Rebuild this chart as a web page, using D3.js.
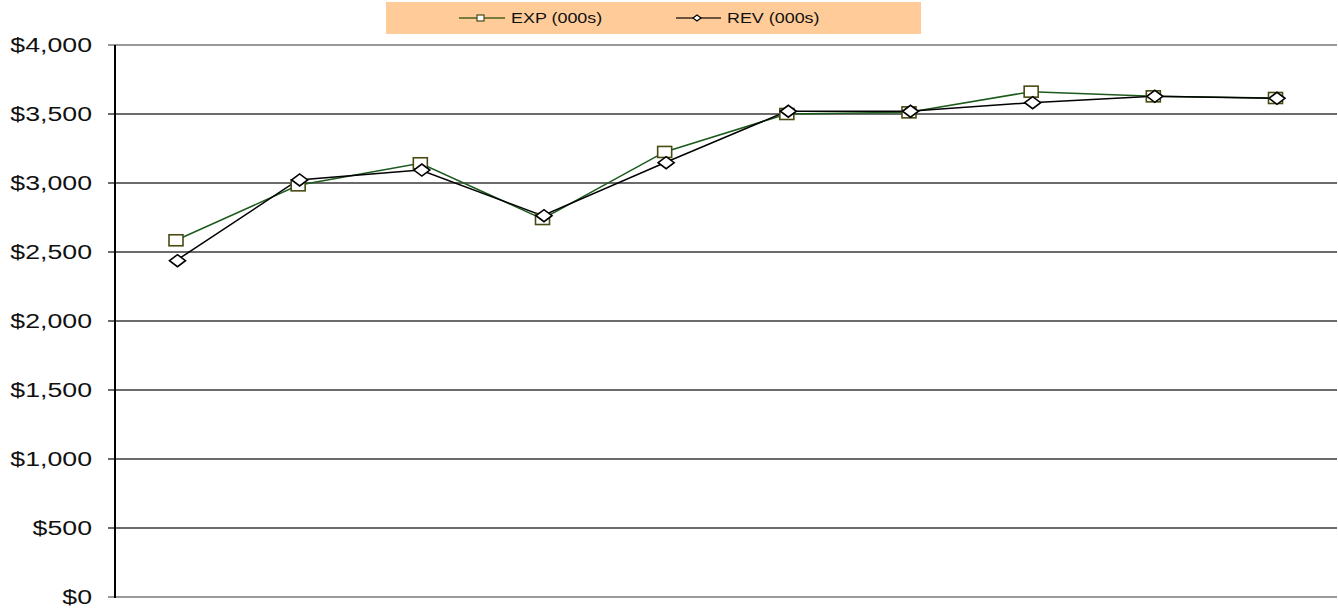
<!DOCTYPE html>
<html>
<head>
<meta charset="utf-8">
<script src="https://cdn.jsdelivr.net/npm/d3@7"></script>
<style>
  html, body { margin: 0; padding: 0; background: #fff; }
  svg { display: block; }
  text { font-family: "Liberation Sans", Arial, sans-serif; fill: #111; }
</style>
</head>
<body>
<svg id="chart" width="1338" height="613"></svg>
<script>
// Periods along the x axis (not labelled on the chart)
const categories = ["P1", "P2", "P3", "P4", "P5", "P6", "P7", "P8", "P9", "P10"];
// Expenses and revenue, in thousands of dollars
const expValues = [2585, 2983, 3143, 2739, 3225, 3500, 3512, 3662, 3628, 3616];
const revValues = [2437, 3022, 3094, 2763, 3147, 3520, 3520, 3582, 3628, 3614];
// Value axis ticks
const yTicks = [0, 500, 1000, 1500, 2000, 2500, 3000, 3500, 4000];
const seriesNames = ["EXP (000s)", "REV (000s)"];

const svg = d3.select("#chart");

const plot = { left: 115, right: 1337, top: 45, bottom: 597 };

const x = d3.scalePoint().domain(categories).range([176, 1275.5]);
const y = d3.scaleLinear().domain([0, 4000]).range([plot.bottom, plot.top]);

const fmt = v => "$" + d3.format(",")(v);

// Horizontal gridlines
svg.append("g")
  .selectAll("line")
  .data(yTicks)
  .join("line")
  .attr("x1", 108)
  .attr("x2", plot.right)
  .attr("y1", d => y(d))
  .attr("y2", d => y(d))
  .attr("stroke", d => d === 0 ? "#9a9a9a" : (d === 4000 ? "#777" : "#3a3a3a"))
  .attr("stroke-width", d => d === 0 ? 2 : 1.4);

// Value axis line
svg.append("line")
  .attr("x1", plot.left).attr("x2", plot.left)
  .attr("y1", plot.top).attr("y2", plot.bottom + 1)
  .attr("stroke", "#000").attr("stroke-width", 2);

// Tick labels (wide face)
svg.append("g")
  .selectAll("text")
  .data(yTicks)
  .join("text")
  .attr("transform", d => `translate(92,${y(d) + 7}) scale(1.37,1)`)
  .attr("text-anchor", "end")
  .attr("font-size", 19.5)
  .text(fmt);

// Series lines
const line = d3.line().x((d, i) => x(categories[i])).y(d => y(d));

svg.append("path")
  .datum(expValues)
  .attr("d", line)
  .attr("fill", "none")
  .attr("stroke", "#1d5a1d")
  .attr("stroke-width", 1.5);

svg.append("path")
  .datum(revValues)
  .attr("d", line)
  .attr("fill", "none")
  .attr("stroke", "#000")
  .attr("stroke-width", 1.5);

// Markers: squares for expenses, diamonds for revenue
const sqW = 14, sqH = 11;
svg.append("g")
  .selectAll("rect")
  .data(expValues)
  .join("rect")
  .attr("x", (d, i) => x(categories[i]) - sqW / 2)
  .attr("y", d => y(d) - sqH / 2)
  .attr("width", sqW)
  .attr("height", sqH)
  .attr("fill", "#fff")
  .attr("stroke", "#4a4a12")
  .attr("stroke-width", 1.6);

const dmW = 8, dmH = 6;
svg.append("g")
  .selectAll("path")
  .data(revValues)
  .join("path")
  .attr("transform", (d, i) => `translate(${x(categories[i]) + 1.5},${y(d)})`)
  .attr("d", `M${-dmW},0L0,${-dmH}L${dmW},0L0,${dmH}Z`)
  .attr("fill", "#fff")
  .attr("stroke", "#000")
  .attr("stroke-width", 1.6);

// Legend
const legend = svg.append("g");
legend.append("rect")
  .attr("x", 386).attr("y", 2)
  .attr("width", 535).attr("height", 32)
  .attr("fill", "#ffcc99");

// EXP entry
legend.append("line")
  .attr("x1", 459).attr("x2", 505).attr("y1", 18).attr("y2", 18)
  .attr("stroke", "#4a6020").attr("stroke-width", 1.5);
legend.append("rect")
  .attr("x", 477).attr("y", 15).attr("width", 7).attr("height", 6)
  .attr("fill", "#fff").attr("stroke", "#4a4a12").attr("stroke-width", 1.2);
legend.append("text")
  .attr("transform", "translate(511,23) scale(1.28,1)")
  .attr("font-size", 14)
  .text(seriesNames[0]);

// REV entry
legend.append("line")
  .attr("x1", 676).attr("x2", 721).attr("y1", 18).attr("y2", 18)
  .attr("stroke", "#3a2a22").attr("stroke-width", 1.5);
legend.append("path")
  .attr("transform", "translate(697,18)")
  .attr("d", "M-4,0L0,-3L4,0L0,3Z")
  .attr("fill", "#fff").attr("stroke", "#000").attr("stroke-width", 1.2);
legend.append("text")
  .attr("transform", "translate(727,23) scale(1.28,1)")
  .attr("font-size", 14)
  .text(seriesNames[1]);
</script>
</body>
</html>
